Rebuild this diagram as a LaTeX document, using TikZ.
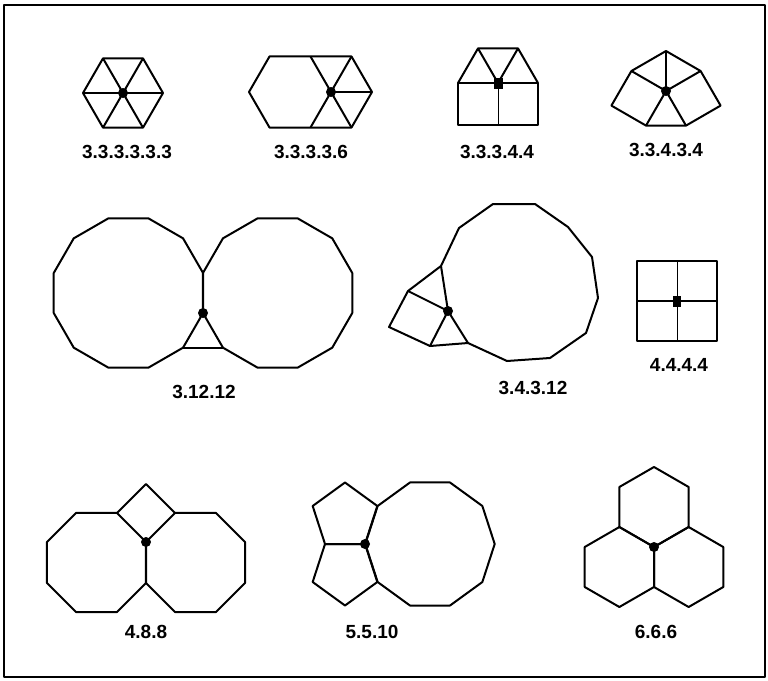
\documentclass[tikz,border=0pt]{standalone}
\usepackage{fontspec}
\newfontfamily\tilefont{Liberation Sans}

\begin{document}
\begin{tikzpicture}[x=1pt, y=-1pt, line join=round,
  edge/.style={line width=2pt},
  thin/.style={line width=0.8pt},
  lab/.style={font=\tilefont\bfseries\fontsize{19}{19}\selectfont}]
\useasboundingbox (0,0) rectangle (768,680);
% frame
\draw[line width=1.8pt] (4,5) rectangle (765,677);
% 3.3.3.3.3.3
\coordinate (v1) at (123,93);
\draw[edge] (v1) +(0:40) \foreach \a in {60,120,...,300} {-- +(\a:40)} -- cycle;
\foreach \a in {0,60,...,300} \draw[edge] (v1) -- +(\a:40);
\fill (v1) circle (5);
\node[lab] (l1) at (127,152) {3.3.3.3.3.3};
% 3.3.3.3.6
\coordinate (v2) at (331,92);
\draw[edge] (290,92) +(0:41) \foreach \a in {60,120,...,300} {-- +(\a:41)} -- cycle;
\draw[edge] (v2) +(240:41) -- +(300:41) -- +(0:41) -- +(60:41) -- +(120:41);
\foreach \a in {300,0,60} \draw[edge] (v2) -- +(\a:41);
\fill (v2) circle (5);
\node[lab] (l2) at (311,152) {3.3.3.3.6};
% 3.3.3.4.4
\coordinate (v3) at (498,83);
\draw[edge] (458,83) rectangle (538,125);
\draw[edge] (458,83) -- (478,48.4) -- (518,48.4) -- (538,83);
\draw[edge] (478,48.4) -- (v3) -- (518,48.4);
\draw[thin] (v3) -- (498,125);
\fill (493.5,77.5) rectangle (502.5,88.5);
\node[lab] (l3) at (497,152) {3.3.3.4.4};
% 3.3.4.3.4
\coordinate (v4) at (666,91);
\draw[edge] (666,51) -- (631.4,71) -- (611.4,105.6) -- (646,125.6) -- (686,125.6)
  -- (720.6,105.6) -- (700.6,71) -- cycle;
\foreach \p in {(666,51),(631.4,71),(700.6,71),(646,125.6),(686,125.6)}
  \draw[edge] (v4) -- \p;
\fill (v4) circle (5);
\node[lab] (l4) at (666,150) {3.3.4.3.4};
% 3.12.12
\coordinate (v5) at (203,313);
\draw[edge] (128.4,293) +(15:77.3) \foreach \a in {45,75,...,345} {-- +(\a:77.3)} -- cycle;
\draw[edge] (277.6,293) +(15:77.3) \foreach \a in {45,75,...,345} {-- +(\a:77.3)} -- cycle;
\draw[edge] (183,347.6) -- (223,347.6);
\fill (v5) circle (5);
\node[lab] (l5) at (204,392) {3.12.12};
% 3.4.3.12
\coordinate (v6) at (448,311);
\draw[edge] (v6) -- (441,266) -- (459,228) -- (493,204) -- (535,204) -- (568,227)
  -- (592,257) -- (598,298) -- (586,333) -- (550,358) -- (507,361) -- (468,343) -- cycle;
\draw[edge] (441,266) -- (408,291) -- (389,327) -- (430,346) -- (468,343);
\draw[edge] (408,291) -- (v6) -- (430,346);
\fill (v6) circle (5);
\node[lab] (l6) at (533,388) {3.4.3.12};
% 4.4.4.4
\coordinate (v7) at (677,301);
\draw[edge] (637,261) rectangle (717,341);
\draw[line width=1.4pt] (637,301) -- (717,301);
\draw[thin] (677,261) -- (677,341);
\fill (673,295.5) rectangle (681,306.5);
\node[lab] (l7) at (679,365) {4.4.4.4};
% 4.8.8
\coordinate (v8) at (146,542);
\draw[edge] (96.5,562.5) +(22.5:53.6) \foreach \a in {67.5,112.5,...,337.5} {-- +(\a:53.6)} -- cycle;
\draw[edge] (195.5,562.5) +(22.5:53.6) \foreach \a in {67.5,112.5,...,337.5} {-- +(\a:53.6)} -- cycle;
\draw[edge] (117,513) -- (146,484) -- (175,513);
\fill (v8) circle (5);
\node[lab] (l8) at (146,632) {4.8.8};
% 5.5.10
\coordinate (v9) at (365,544);
\draw[edge] (430,544) +(0:64.7) \foreach \a in {36,72,...,324} {-- +(\a:64.7)} -- cycle;
\draw[edge] (345,516.5) +(54:34) \foreach \a in {126,198,270,342} {-- +(\a:34)} -- cycle;
\draw[edge] (345,571.5) +(306:34) \foreach \a in {234,162,90,18} {-- +(\a:34)} -- cycle;
\fill (v9) circle (5);
\node[lab] (l9) at (372,632) {5.5.10};
% 6.6.6
\coordinate (v10) at (654,547);
\foreach \c in {(654,507),(619.36,567),(688.64,567)}
  \draw[edge] \c +(30:40) \foreach \a in {90,150,...,330} {-- +(\a:40)} -- cycle;
\fill (v10) circle (5);
\node[lab] (l10) at (656,632) {6.6.6};
\end{tikzpicture}
\end{document}
